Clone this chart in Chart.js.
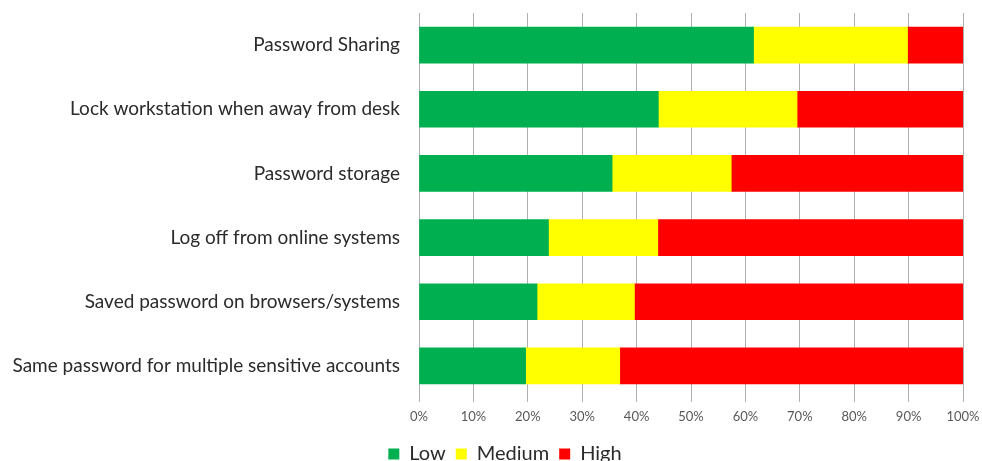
<!DOCTYPE html>
<html>
<head>
<meta charset="utf-8">
<script src="https://cdn.jsdelivr.net/npm/chart.js@4.4.1/dist/chart.umd.min.js"></script>
<style>
  html, body { margin: 0; padding: 0; background: #fff; overflow: hidden; }
  #wrap { position: relative; width: 982px; height: 474px; }
</style>
</head>
<body>
<div id="wrap"><canvas id="riskChart"></canvas></div>
<script>
const categories = [
    'Password Sharing',
    'Lock workstation when away from desk',
    'Password storage',
    'Log off from online systems',
    'Saved password on browsers/systems',
    'Same password for multiple sensitive accounts'
];

// share of respondents per risk level, in percent
const lowValues    = [61.5, 44.0, 35.5, 23.8, 21.7, 19.6];
const mediumValues = [28.3, 25.5, 21.9, 20.1, 17.9, 17.3];
const highValues   = [10.2, 30.5, 42.6, 56.1, 60.4, 63.1];

const tickLabels = ['0%', '10%', '20%', '30%', '40%', '50%', '60%', '70%', '80%', '90%', '100%'];

// nudge the legend a bit to the right of the canvas centre
const legendShift = {
    id: 'legendShift',
    afterLayout(chart) {
        if (!chart.legend) return;
        chart.legend.left += 14;
        chart.legend.right += 14;
    }
};

document.addEventListener('DOMContentLoaded', function() {
    const canvas = document.getElementById('riskChart');

    new Chart(canvas, {
        type: 'bar',
        data: {
            labels: categories,
            datasets: [
                { label: 'Low', data: lowValues, backgroundColor: '#00B050' },
                { label: 'Medium', data: mediumValues, backgroundColor: '#FFFF00' },
                { label: 'High', data: highValues, backgroundColor: '#FF0000' }
            ]
        },
        options: {
            indexAxis: 'y',
            animation: false,
            responsive: true,
            maintainAspectRatio: false,
            barThickness: 36,
            layout: { padding: { top: 13, left: 0, right: 0, bottom: 0 } },
            scales: {
                x: {
                    stacked: true,
                    min: 0,
                    max: 100,
                    afterFit: (scale) => {
                        scale.height = 36;
                        scale.paddingRight = 19;
                    },
                    grid: {
                        color: '#b0b0b0',
                        lineWidth: 1,
                        tickLength: 4
                    },
                    border: { display: false },
                    ticks: {
                        stepSize: 10,
                        padding: 7,
                        color: '#595959',
                        font: { family: 'Lato', size: 13 },
                        callback: (v, i) => tickLabels[i]
                    }
                },
                y: {
                    stacked: true,
                    afterFit: (scale) => {
                        scale.width = 419;
                        scale.paddingTop = 0;
                        scale.paddingBottom = 0;
                    },
                    grid: { display: false, drawTicks: false },
                    border: { display: false },
                    ticks: {
                        padding: 19,
                        color: '#2b2b2b',
                        font: { family: 'Lato', size: 19, lineHeight: 1 }
                    }
                }
            },
            plugins: {
                tooltip: { enabled: false },
                legend: {
                    position: 'bottom',
                    labels: {
                        boxWidth: 11,
                        boxHeight: 11,
                        padding: 10,
                        color: '#2b2b2b',
                        font: { family: 'Lato', size: 20 }
                    }
                }
            }
        },
        plugins: [legendShift]
    });
});
</script>
</body>
</html>
